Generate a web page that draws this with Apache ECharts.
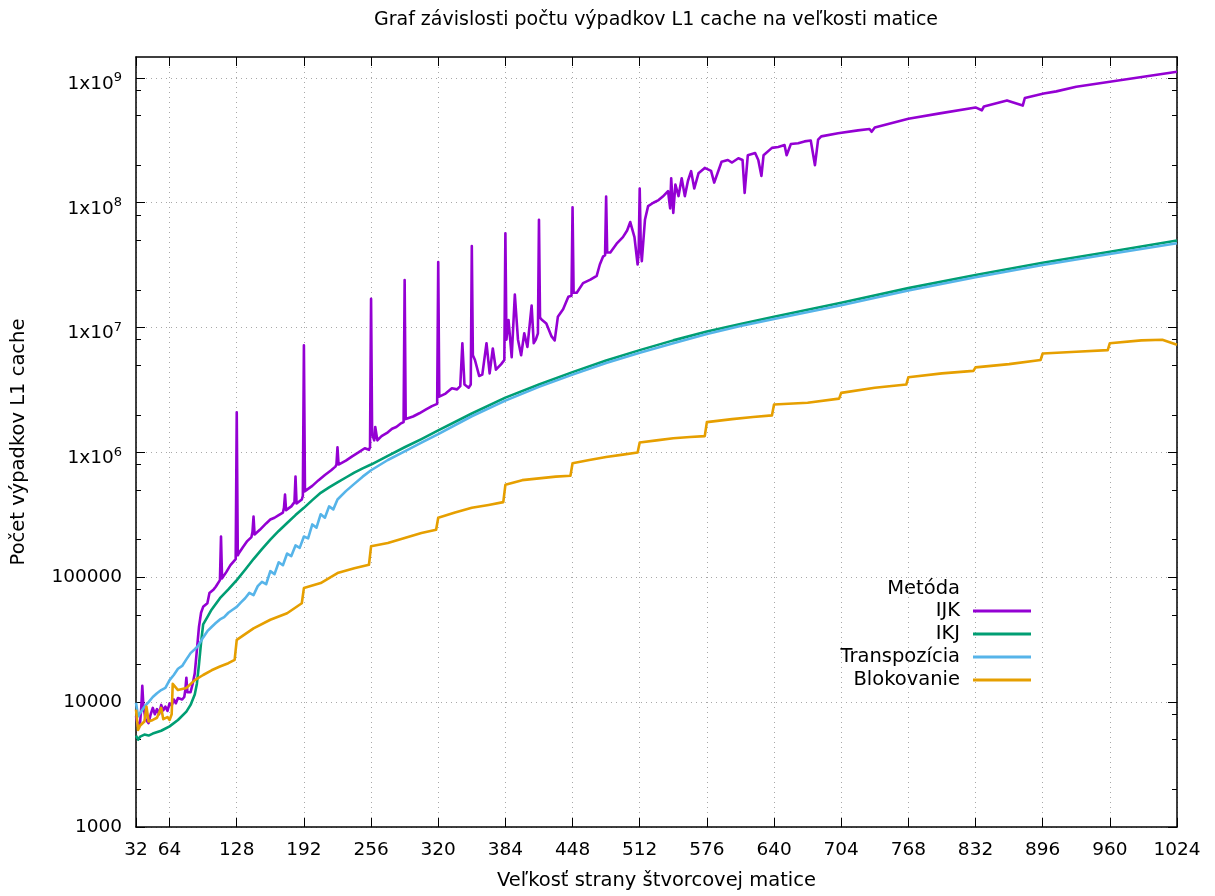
<!DOCTYPE html>
<html>
<head>
<meta charset="utf-8">
<script src="https://cdn.jsdelivr.net/npm/echarts@6/dist/echarts.min.js"></script>
<style>
  html, body { margin: 0; padding: 0; background: #fff; }
  #chart { width: 1215px; height: 896px; }
</style>
</head>
<body>
<div id="chart"></div>
<script>
const xTicks = [32, 64, 128, 192, 256, 320, 384, 448, 512, 576, 640, 704, 768, 832, 896, 960, 1024];
const yTicks = [1000, 10000, 100000, 1000000, 10000000, 100000000, 1000000000];
const yMinorTicks = [2000, 5000, 8000, 20000, 50000, 80000, 200000, 500000, 800000,
  2000000, 5000000, 8000000, 20000000, 50000000, 80000000, 200000000, 500000000, 800000000];

// IJK
const ijkN = [32, 34, 36, 37, 38, 39, 41, 44, 46, 48, 50, 52, 54, 56, 58, 60, 62, 64, 66, 68, 70, 72, 76, 78, 79, 80, 81, 84, 86, 88, 90, 92, 94, 96,
  100, 102, 106, 108, 112, 113, 114, 118, 122, 127, 128, 129, 130, 134, 138, 142, 143, 144, 145, 150, 156, 160, 164, 168, 172, 173, 174, 175,
  180, 183, 184, 185, 190, 191, 192, 193, 200, 206, 212, 218, 222, 223, 224, 225, 232, 238, 244, 250, 254, 255, 256, 257, 259, 260, 262, 266,
  272, 276, 280, 284, 287, 288, 289, 296, 302, 308, 314, 319, 320, 321, 327, 333, 338, 341, 343, 345, 349, 351, 352, 353, 355, 359, 362, 366,
  369, 372, 375, 380, 383, 384, 385, 387, 390, 393, 396, 399, 402, 405, 409, 411, 413, 415, 416, 417, 419, 423, 428, 431, 434, 439, 444, 447,
  448, 449, 452, 458, 465, 471, 474, 477, 479, 480, 481, 484, 490, 496, 500, 503, 507, 510, 511, 512, 513, 514, 517, 520, 525, 530, 534, 539,
  541, 542, 544, 546, 549, 552, 555, 558, 561, 564, 568, 574, 580, 583, 590, 596, 600, 606, 610, 612, 615, 622, 625, 628, 630, 638, 644, 650,
  652, 656, 663, 669, 675, 679, 682, 685, 701, 720, 731, 733, 736, 768, 798, 832, 838, 840, 862, 877, 879, 897, 909, 928, 960, 992, 1024];
const ijkVal = [7700, 6300, 7000, 9000, 13500, 9500, 7300, 6800, 8000, 9000, 8000, 8800, 8000, 9500, 8600, 9200, 8500, 9800, 9400, 10500, 9800, 10800, 10500, 11000, 12500, 15700, 12000, 12000, 14000, 17000, 26000, 40000, 52000, 58000,
  62000, 75000, 80000, 84000, 95000, 212000, 98000, 110000, 125000, 140000, 2100000, 150000, 156000, 175000, 195000, 210000, 230000, 307000, 220000, 240000, 270000, 290000, 300000, 315000, 330000, 360000, 460000, 345000,
  370000, 400000, 640000, 390000, 420000, 450000, 7200000, 490000, 540000, 600000, 660000, 720000, 770000, 800000, 1100000, 800000, 860000, 930000, 1000000, 1080000, 1050000, 1100000, 17000000, 1400000, 1250000, 1600000, 1250000, 1350000,
  1450000, 1550000, 1600000, 1700000, 1750000, 24000000, 1850000, 1940000, 2060000, 2200000, 2350000, 2450000, 33500000, 2800000, 2960000, 3270000, 3200000, 3400000, 7500000, 3500000, 3300000, 3500000, 45000000, 6000000, 5500000, 4100000, 4200000, 7500000,
  4300000, 6800000, 4600000, 5100000, 5500000, 57000000, 8000000, 11500000, 5800000, 18400000, 8000000, 6000000, 9000000, 7000000, 15000000, 7500000, 8000000, 9000000, 73000000, 12000000, 11500000, 10800000, 8500000, 7900000, 12200000, 14000000, 17700000, 18000000,
  92000000, 19000000, 19000000, 22700000, 24200000, 26000000, 32000000, 37000000, 38000000, 112000000, 40000000, 40000000, 47000000, 53000000, 60000000, 70000000, 53000000, 32000000, 40000000, 130000000, 45000000, 34000000, 73000000, 94000000, 100000000, 105000000, 112000000, 124000000,
  90000000, 157000000, 83000000, 140000000, 113000000, 157000000, 113000000, 150000000, 179000000, 130000000, 172000000, 190000000, 180000000, 145000000, 213000000, 220000000, 210000000, 227000000, 220000000, 120000000, 240000000, 250000000, 220000000, 164000000, 240000000, 275000000, 280000000, 290000000,
  240000000, 295000000, 300000000, 310000000, 315000000, 200000000, 320000000, 340000000, 360000000, 380000000, 390000000, 370000000, 400000000, 470000000, 520000000, 580000000, 550000000, 590000000, 660000000, 600000000, 690000000, 750000000, 780000000, 850000000, 930000000, 1020000000, 1120000000];

// IKJ
const ikjN = [32, 34, 36, 40, 44, 48, 56, 64, 72, 80, 84, 88, 90, 92, 94, 96, 100, 104, 112, 120, 128, 136, 144, 152, 160, 168, 176, 184, 192, 200,
  208, 216, 224, 232, 240, 248, 256, 272, 288, 304, 320, 352, 384, 416, 448, 480, 512, 544, 576, 608, 640, 704, 768, 832, 896, 960, 1024];
const ikjVal = [5400, 5000, 5300, 5500, 5400, 5600, 5900, 6400, 7200, 8400, 9500, 11500, 14000, 20000, 30000, 42000, 48000, 55000, 68000, 80000, 95000, 115000, 140000, 168000, 200000, 235000, 272000, 315000, 360000, 415000,
  475000, 525000, 575000, 630000, 690000, 745000, 800000, 940000, 1100000, 1280000, 1500000, 2050000, 2750000, 3500000, 4400000, 5450000, 6600000, 7900000, 9300000, 10700000, 12200000, 15800000, 20700000, 26400000, 33100000, 40500000, 49800000];

// Transpozicia
const trN = [32, 34, 36, 40, 44, 48, 52, 56, 60, 64, 68, 72, 76, 80, 84, 88, 90, 92, 94, 96, 100, 104, 108, 112, 116, 120, 124, 128, 132, 136,
  140, 144, 148, 152, 156, 160, 164, 168, 172, 176, 180, 184, 188, 192, 196, 200, 204, 208, 212, 216, 220, 224, 232, 240, 248, 256,
  272, 288, 304, 320, 352, 384, 416, 448, 480, 512, 544, 576, 608, 640, 704, 768, 832, 896, 960, 1024];
const trVal = [9900, 7700, 8200, 9200, 10000, 11000, 11800, 12500, 13000, 15000, 16500, 18500, 19500, 22000, 24700, 26500, 27500, 29000, 31000, 33000, 37000, 40000, 43000, 46000, 48000, 52000, 55000, 58000, 63000, 68000,
  75000, 72000, 85000, 92000, 88000, 112000, 106000, 132000, 125000, 155000, 148000, 180000, 172000, 212000, 205000, 265000, 250000, 320000, 300000, 370000, 350000, 420000, 490000, 560000, 640000, 720000,
  870000, 1020000, 1200000, 1400000, 1950000, 2600000, 3350000, 4200000, 5200000, 6300000, 7500000, 8900000, 10300000, 11700000, 15100000, 19800000, 25300000, 31700000, 38800000, 47300000];

// Blokovanie
const blkN = [32, 34, 36, 40, 42, 44, 48, 52, 56, 58, 62, 64, 66, 67, 72, 80, 88, 96, 104, 112, 120, 126, 128, 144, 160, 176, 190, 192, 208, 224, 240, 254, 256,
  272, 288, 304, 318, 320, 336, 352, 368, 382, 384, 400, 416, 432, 446, 448, 464, 480, 496, 510, 512, 528, 544, 560, 574, 576, 600, 620, 638, 640,
  672, 702, 704, 736, 766, 768, 800, 830, 832, 864, 894, 896, 928, 958, 960, 990, 1010, 1024];
const blkVal = [8700, 6000, 6500, 7000, 9200, 7000, 7200, 7500, 9000, 7300, 7600, 7200, 8000, 14000, 12500, 13000, 15000, 16500, 18000, 19300, 20500, 21800, 31500, 39000, 45700, 51500, 62000, 82000, 90000, 108000, 118000, 126000, 177000,
  188000, 206000, 226000, 240000, 300000, 330000, 360000, 380000, 400000, 550000, 600000, 620000, 640000, 650000, 820000, 870000, 920000, 960000, 1000000, 1200000, 1250000, 1300000, 1330000, 1350000, 1750000, 1850000, 1920000, 1980000, 2420000,
  2500000, 2700000, 3000000, 3300000, 3500000, 4000000, 4300000, 4500000, 4800000, 5100000, 5500000, 6200000, 6400000, 6600000, 7500000, 7900000, 8000000, 7300000];

const seriesNames = ['IJK', 'IKJ', 'Transpozícia', 'Blokovanie'];
const seriesColors = ['#9400d3', '#009e73', '#56b4e9', '#e69f00'];

const FONT = 'DejaVu Sans';
const X_MIN = 32, X_MAX = 1024, Y_MIN = 1000, Y_MAX = 1.47e9;

function pairs(xs, ys) {
  return xs.map((x, i) => [x, ys[i]]);
}

function yLabel(v) {
  if (v < 1e6) return String(Math.round(v));
  const e = Math.round(Math.log10(v));
  return '{m|1x10}{s|' + e + '}';
}

const chart = echarts.init(document.getElementById('chart'), null, { renderer: 'canvas' });

const tickStyle = { color: '#000', width: 1 };
const gridLine = { color: '#a8a8a8', type: [1, 4], width: 1 };

chart.setOption({
  animation: false,
  backgroundColor: '#fff',
  textStyle: { fontFamily: FONT },
  grid: { left: 136, right: 38, top: 57, bottom: 69, outerBoundsMode: 'none' },
  graphic: [
    {
      type: 'text', x: 656, y: 20,
      style: { text: 'Graf závislosti počtu výpadkov L1 cache na veľkosti matice', font: '19px "DejaVu Sans"', fill: '#000',
        align: 'center', verticalAlign: 'middle', textAlign: 'center', textVerticalAlign: 'middle' }
    },
    {
      type: 'text', x: 960, y: 589,
      style: { text: 'Metóda', font: '19.5px "DejaVu Sans"', fill: '#000',
        align: 'right', verticalAlign: 'middle', textAlign: 'right', textVerticalAlign: 'middle' }
    }
  ],
  legend: {
    orient: 'vertical',
    right: 184,
    top: 600,
    align: 'right',
    padding: 0,
    itemGap: 1,
    itemWidth: 58,
    itemHeight: 3,
    icon: 'rect',
    textStyle: { fontFamily: FONT, fontSize: 19.5, color: '#000', lineHeight: 22, padding: [0, 8, 0, 0] },
    data: seriesNames
  },
  xAxis: [
    {
      type: 'value', min: X_MIN, max: X_MAX, position: 'bottom',
      name: 'Veľkosť strany štvorcovej matice', nameLocation: 'middle', nameGap: 44,
      nameTextStyle: { fontFamily: FONT, fontSize: 19.5, color: '#000' },
      axisLine: { onZero: false, lineStyle: { color: '#000', width: 1.5 } },
      axisTick: { inside: true, length: 9, customValues: xTicks, lineStyle: tickStyle },
      axisLabel: { customValues: xTicks, margin: 14, fontFamily: FONT, fontSize: 18.5, color: '#000', formatter: v => String(v) },
      splitLine: { show: true, customValues: xTicks, lineStyle: gridLine }
    },
    {
      type: 'value', min: X_MIN, max: X_MAX, position: 'top',
      axisLine: { onZero: false, lineStyle: { color: '#000', width: 1.5 } },
      axisTick: { inside: true, length: 9, customValues: xTicks, lineStyle: tickStyle },
      axisLabel: { show: false },
      splitLine: { show: false }
    }
  ],
  yAxis: [
    {
      type: 'log', logBase: 10, min: Y_MIN, max: Y_MAX, position: 'left',
      name: 'Počet výpadkov L1 cache', nameLocation: 'middle', nameGap: 107,
      nameTextStyle: { fontFamily: FONT, fontSize: 19.5, color: '#000' },
      axisLine: { show: true, onZero: false, lineStyle: { color: '#000', width: 1.5 } },
      axisTick: { inside: true, length: 9, customValues: yTicks, lineStyle: tickStyle },
      axisLabel: {
        customValues: yTicks, margin: 14, fontFamily: FONT, fontSize: 18.5, color: '#000',
        formatter: yLabel,
        rich: {
          m: { fontFamily: FONT, fontSize: 18.5, color: '#000', padding: [12, 0, 0, 0] },
          s: { fontFamily: FONT, fontSize: 13, color: '#000' }
        }
      },
      splitLine: { show: true, customValues: yTicks, lineStyle: gridLine }
    },
    {
      type: 'log', logBase: 10, min: Y_MIN, max: Y_MAX, position: 'left',
      axisLine: { show: false, onZero: false },
      axisTick: { inside: true, length: 5, customValues: yMinorTicks, lineStyle: tickStyle },
      axisLabel: { show: false },
      splitLine: { show: false }
    },
    {
      type: 'log', logBase: 10, min: Y_MIN, max: Y_MAX, position: 'right',
      axisLine: { show: true, onZero: false, lineStyle: { color: '#000', width: 1.5 } },
      axisTick: { inside: true, length: 9, customValues: yTicks, lineStyle: tickStyle },
      axisLabel: { show: false },
      splitLine: { show: false }
    },
    {
      type: 'log', logBase: 10, min: Y_MIN, max: Y_MAX, position: 'right',
      axisLine: { show: false, onZero: false },
      axisTick: { inside: true, length: 5, customValues: yMinorTicks, lineStyle: tickStyle },
      axisLabel: { show: false },
      splitLine: { show: false }
    }
  ],
  series: [
    { name: seriesNames[0], data: pairs(ijkN, ijkVal) },
    { name: seriesNames[1], data: pairs(ikjN, ikjVal) },
    { name: seriesNames[2], data: pairs(trN, trVal) },
    { name: seriesNames[3], data: pairs(blkN, blkVal) }
  ].map((s, i) => ({
    type: 'line',
    name: s.name,
    data: s.data,
    xAxisIndex: 0,
    yAxisIndex: 0,
    showSymbol: false,
    symbol: 'none',
    clip: true,
    color: seriesColors[i],
    lineStyle: { color: seriesColors[i], width: 2.6, join: 'round' }
  }))
});
</script>
</body>
</html>
